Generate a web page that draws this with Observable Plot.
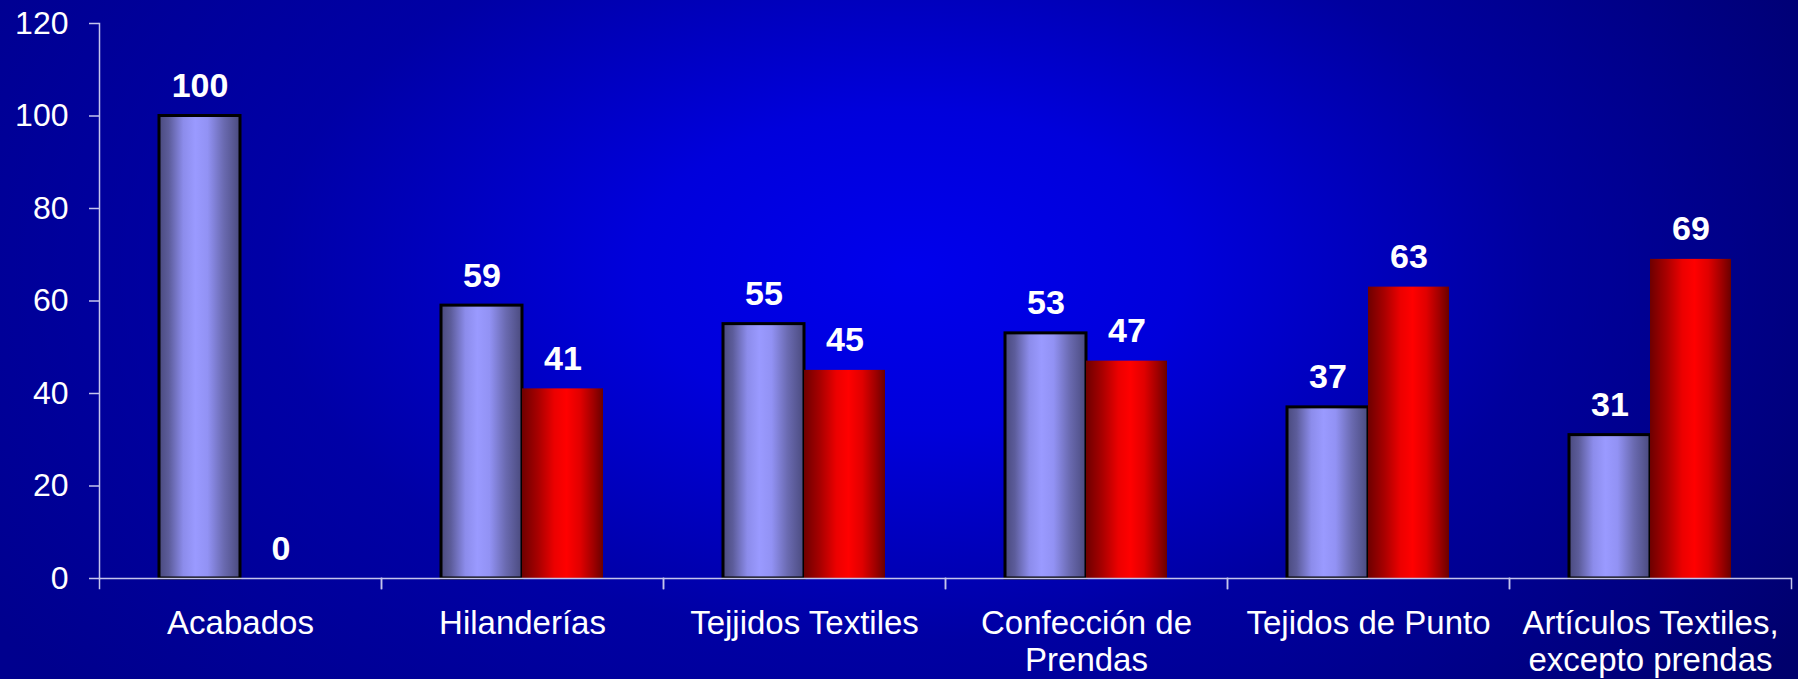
<!DOCTYPE html>
<html>
<head>
<meta charset="utf-8">
<script src="https://cdn.jsdelivr.net/npm/d3@7"></script>
<script src="https://cdn.jsdelivr.net/npm/@observablehq/plot@0.6"></script>
<style>
  html, body { margin: 0; padding: 0; }
  body {
    width: 1798px; height: 679px; overflow: hidden;
    background:
      radial-gradient(ellipse 1100px 640px at 910px 270px, rgba(0,0,236,1) 0%, rgba(0,0,224,0.95) 25%, rgba(0,0,184,0.6) 58%, rgba(0,0,140,0) 100%),
      linear-gradient(to right, #00008e, #000084 50%, #00006c);
    font-family: "Liberation Sans", Arial, sans-serif;
  }
</style>
</head>
<body>
<div id="chart"></div>
<script>
const categories = ["Acabados", "Hilanderías", "Tejjidos Textiles", "Confección de Prendas", "Tejidos de Punto", "Artículos Textiles, excepto prendas"];
const categoryLabels = ["Acabados", "Hilanderías", "Tejjidos Textiles", "Confección de\nPrendas", "Tejidos de Punto", "Artículos Textiles,\nexcepto prendas"];
const seriesNames = ["A", "B"];
const seriesA = [100, 59, 55, 53, 37, 31];
const seriesB = [0, 41, 45, 47, 63, 69];
const yTicks = [0, 20, 40, 60, 80, 100, 120];

const rows = [];
categories.forEach((c, i) => {
  rows.push({cat: c, series: "A", value: seriesA[i]});
  rows.push({cat: c, series: "B", value: seriesB[i]});
});
const labelOf = new Map(categories.map((c, i) => [c, categoryLabels[i]]));
const axisColor = "#c4c4ec";

const plot = Plot.plot({
  width: 1798,
  height: 679,
  marginLeft: 99,
  marginRight: 7,
  marginTop: 23,
  marginBottom: 101,
  style: {background: "transparent", color: "white", fontFamily: "'Liberation Sans', Arial, sans-serif"},
  fx: {domain: categories, padding: 0, label: null},
  x: {domain: seriesNames, paddingInner: 0, paddingOuter: 0.734, axis: null},
  y: {domain: [0, 120], label: null},
  marks: [
    Plot.barY(rows.filter(d => d.series === "A"), {fx: "cat", x: "series", y: "value", fill: "url(#gradA)", stroke: "black", strokeWidth: 3}),
    Plot.barY(rows.filter(d => d.series === "B"), {fx: "cat", x: "series", y: "value", fill: "url(#gradB)"}),
    Plot.text(rows, {fx: "cat", x: "series", y: "value", text: d => String(d.value), lineAnchor: "bottom", dy: -19, fill: "white", fontSize: 34, fontWeight: "bold"}),
    Plot.ruleY([0], {stroke: axisColor, strokeWidth: 1.5}),
    Plot.frame({anchor: "left", fx: [categories[0]], stroke: axisColor, strokeWidth: 1.5}),
    Plot.frame({anchor: "left", stroke: axisColor, strokeWidth: 1.5, insetTop: 555, insetBottom: -10}),
    Plot.frame({anchor: "right", stroke: axisColor, strokeWidth: 1.5, insetTop: 555, insetBottom: -10}),
    Plot.axisY({ticks: yTicks, tickSize: 10, tickPadding: 21, fontSize: 32, stroke: axisColor, strokeWidth: 1.5, fill: "white", label: null}),
    Plot.axisFx({anchor: "bottom", tickSize: 0, tickPadding: 29, fontSize: 33, lineHeight: 1.12, fill: "white", label: null, tickFormat: c => labelOf.get(c)})
  ]
});

const svg = d3.select(plot);
const defs = svg.insert("defs", ":first-child");
const ga = defs.append("linearGradient").attr("id", "gradA").attr("x1", "0%").attr("x2", "100%").attr("y1", "0%").attr("y2", "0%");
[[0, "#4a4a7e"], [0.12, "#5c5c9a"], [0.3, "#8c8ceb"], [0.45, "#9a9aff"], [0.6, "#9292f4"], [0.8, "#6a6ab0"], [1, "#4a4a7e"]]
  .forEach(([o, c]) => ga.append("stop").attr("offset", o).attr("stop-color", c));
const gb = defs.append("linearGradient").attr("id", "gradB").attr("x1", "0%").attr("x2", "100%").attr("y1", "0%").attr("y2", "0%");
[[0, "#6e0000"], [0.2, "#a80000"], [0.4, "#ec0000"], [0.55, "#ff0000"], [0.72, "#e00000"], [0.88, "#a00000"], [1, "#6a0000"]]
  .forEach(([o, c]) => gb.append("stop").attr("offset", o).attr("stop-color", c));

document.getElementById("chart").appendChild(plot);
</script>
</body>
</html>
